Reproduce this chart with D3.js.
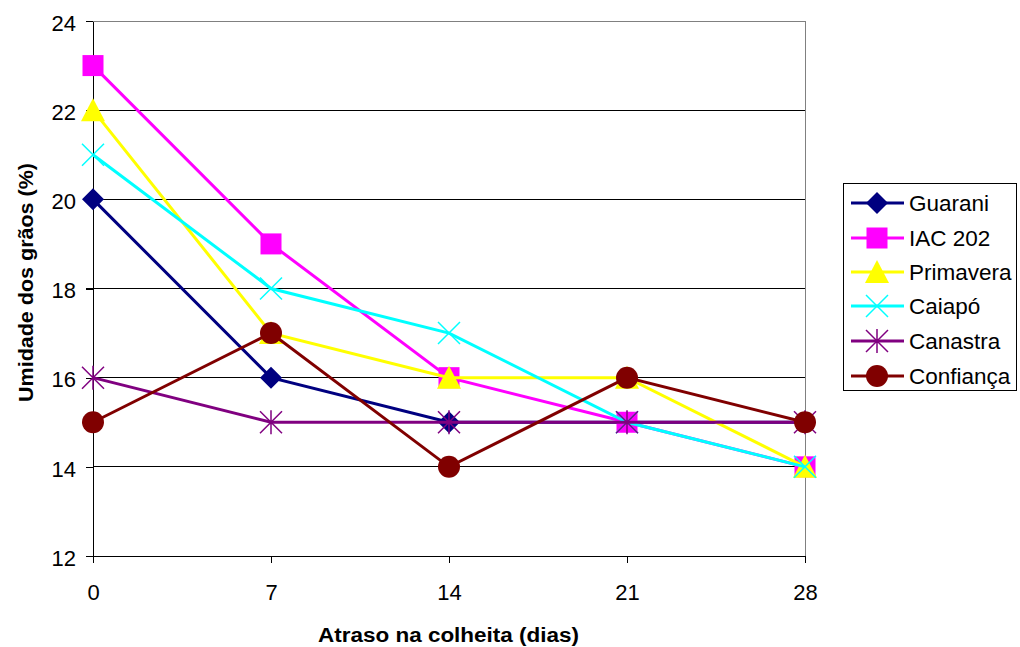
<!DOCTYPE html>
<html><head><meta charset="utf-8">
<script src="https://cdn.jsdelivr.net/npm/d3@7"></script>
<style>body{margin:0;background:#fff;}svg{display:block;font-family:Arial,"Liberation Sans",sans-serif;}</style>
</head><body>
<svg id="c" width="1020" height="647"></svg>
<script>
const days = [0, 7, 14, 21, 28];
const yTicks = [12, 14, 16, 18, 20, 22, 24];
const seriesNames = ["Guarani", "IAC 202", "Primavera", "Caiapó", "Canastra", "Confiança"];
const guarani = [20, 16, 15, 15, 15];
const iac202 = [23, 19, 16, 15, 14];
const primavera = [22, 17, 16, 16, 14];
const caiapo = [21, 18, 17, 15, 14];
const canastra = [16, 15, 15, 15, 15];
const confianca = [15, 17, 14, 16, 15];
const colors = ["#000080", "#FF00FF", "#FFFF00", "#00FFFF", "#800080", "#800000"];
const shapes = ["diamond", "square", "triangle", "x", "star", "circle"];
const values = [guarani, iac202, primavera, caiapo, canastra, confianca];

const svg = d3.select("#c");
const L = 93, R = 805, T = 21, B = 556;
const x = d3.scaleLinear().domain([0, 28]).range([L, R]);
const y = d3.scaleLinear().domain([12, 24]).range([B, T]);

// gridlines
svg.append("g").selectAll("line").data(yTicks.slice(1, -1)).join("line")
  .attr("x1", L).attr("x2", R).attr("y1", d => y(d)).attr("y2", d => y(d))
  .attr("stroke", "#000").attr("stroke-width", 1).attr("shape-rendering", "crispEdges");
// plot border top/right
svg.append("line").attr("x1", R).attr("x2", R).attr("y1", T).attr("y2", B)
  .attr("stroke", "#808080").attr("shape-rendering", "crispEdges");
svg.append("line").attr("x1", L).attr("x2", R).attr("y1", T).attr("y2", T)
  .attr("stroke", "#808080").attr("shape-rendering", "crispEdges");

// axes
const yAxis = d3.axisLeft(y).tickValues(yTicks).tickSize(7).tickSizeOuter(0).tickPadding(10);
const gy = svg.append("g").attr("transform", `translate(${L},0)`).call(yAxis);
const xAxis = d3.axisBottom(x).tickValues(days).tickSize(7).tickSizeOuter(0).tickPadding(21);
const gx = svg.append("g").attr("transform", `translate(0,${B})`).call(xAxis);
[gy, gx].forEach(g => {
  g.selectAll("path,line").attr("stroke", "#000").attr("stroke-width", 1.2).attr("shape-rendering", "crispEdges");
  g.selectAll("text").attr("font-size", 22).attr("fill", "#000").attr("font-family", "Arial, 'Liberation Sans', sans-serif");
});
gy.selectAll("text").attr("dy", "0.42em");

// axis titles
svg.append("text").attr("x", 448.5).attr("y", 642).attr("text-anchor", "middle")
  .attr("font-size", 20).attr("font-weight", "bold")
  .attr("textLength", 261).attr("lengthAdjust", "spacingAndGlyphs").text("Atraso na colheita (dias)");
svg.append("text").attr("transform", `translate(33,282.5) rotate(-90)`).attr("text-anchor", "middle")
  .attr("font-size", 20).attr("font-weight", "bold")
  .attr("textLength", 239).attr("lengthAdjust", "spacingAndGlyphs").text("Umidade dos grãos (%)");

function marker(g, shape, color, cx, cy) {
  if (shape === "diamond") {
    g.append("path").attr("d", `M${cx},${cy-11}L${cx+11},${cy}L${cx},${cy+11}L${cx-11},${cy}Z`).attr("fill", color);
  } else if (shape === "square") {
    g.append("rect").attr("x", cx - 10.5).attr("y", cy - 10.5).attr("width", 21).attr("height", 21).attr("fill", color);
  } else if (shape === "triangle") {
    g.append("path").attr("d", `M${cx},${cy-12}L${cx+12},${cy+11}L${cx-12},${cy+11}Z`).attr("fill", color);
  } else if (shape === "x") {
    g.append("path").attr("d", `M${cx-11},${cy-11}L${cx+11},${cy+11}M${cx-11},${cy+11}L${cx+11},${cy-11}`).attr("stroke", color).attr("stroke-width", 1.5);
  } else if (shape === "star") {
    g.append("path").attr("d", `M${cx-11},${cy-11}L${cx+11},${cy+11}M${cx-11},${cy+11}L${cx+11},${cy-11}M${cx},${cy-12}L${cx},${cy+12}`).attr("stroke", color).attr("stroke-width", 1.5);
  } else if (shape === "circle") {
    g.append("circle").attr("cx", cx).attr("cy", cy).attr("r", 11).attr("fill", color);
  }
}

const line = d3.line().x((d, i) => x(days[i])).y(d => y(d));
values.forEach((vals, si) => {
  const g = svg.append("g");
  g.append("path").datum(vals).attr("d", line).attr("fill", "none")
    .attr("stroke", colors[si]).attr("stroke-width", 3);
  vals.forEach((v, i) => marker(g, shapes[si], colors[si], x(days[i]), y(v)));
});

// legend
const lg = svg.append("g");
lg.append("rect").attr("x", 843.5).attr("y", 183.5).attr("width", 173).attr("height", 207)
  .attr("fill", "#fff").attr("stroke", "#000").attr("stroke-width", 1);
const ly = [203, 238, 272, 306, 341, 376];
seriesNames.forEach((name, si) => {
  const cy = ly[si];
  lg.append("line").attr("x1", 851).attr("x2", 904).attr("y1", cy).attr("y2", cy)
    .attr("stroke", colors[si]).attr("stroke-width", 3);
  marker(lg, shapes[si], colors[si], 877, cy);
  lg.append("text").attr("x", 909).attr("y", cy + 7.5).attr("font-size", 22.5).text(name);
});
</script>
</body></html>
